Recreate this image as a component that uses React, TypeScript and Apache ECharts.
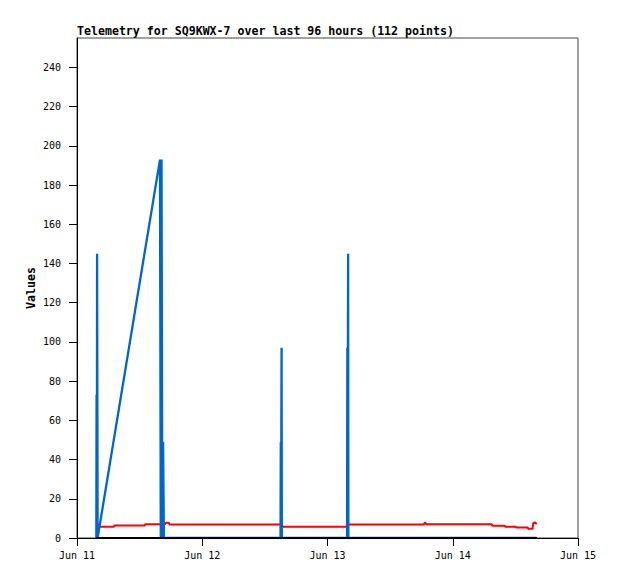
import React, { useEffect, useRef } from "react";
import * as echarts from "echarts";

// Time base: Jun 11 00:00 (UTC), series times given in hours after it
const BASE = Date.UTC(2024, 5, 11);
const HOUR = 3600000;
const DAY = 24 * HOUR;

const dayTickOffsets = [0, 1, 2, 3, 4];
const yTickValues = [0, 20, 40, 60, 80, 100, 120, 140, 160, 180, 200, 220, 240];
const MONTHS = ["Jan", "Feb", "Mar", "Apr", "May", "Jun", "Jul", "Aug", "Sep", "Oct", "Nov", "Dec"];

const blueHours = [3.7, 3.75, 3.8, 3.85, 3.95, 15.9, 16.05, 16.2, 16.35, 16.5, 16.65, 39.0, 39.05, 39.1, 39.2, 39.25, 51.75, 51.8, 51.85, 51.95, 52.0, 88.1];
const blueValues = [0, 73, 0, 145, 0, 193, 0, 193, 0, 49, 0, 0, 49, 0, 97, 0, 0, 97, 0, 145, 0, 0];

const redHours = [4.0, 7.1, 7.15, 13.0, 13.05, 16.9, 17.0, 17.6, 17.7, 39.3, 39.35, 51.9, 51.95, 66.5, 66.6, 66.8, 66.9, 79.5, 79.55, 82.0, 82.05, 84.1, 84.15, 86.4, 86.45, 87.3, 87.4, 87.7, 88.1];
const redValues = [5.8, 5.8, 6.4, 6.4, 7.0, 7.0, 7.8, 7.8, 6.9, 6.9, 5.8, 5.8, 6.9, 6.9, 7.8, 7.8, 7.0, 7.0, 6.3, 6.3, 5.8, 5.8, 5.3, 5.3, 4.7, 4.7, 7.5, 8.0, 7.2];

const blackHours = [3.6, 88.1];
const blackValues = [0, 0];

const FONT = "'DejaVu Sans Mono', 'Liberation Mono', monospace";

const toData = (hours: number[], values: number[]) =>
  hours.map((h, i) => [BASE + h * HOUR, values[i]]);

export default function App() {
  const ref = useRef<HTMLDivElement>(null);
  useEffect(() => {
    if (!ref.current) return;
    const chart = echarts.init(ref.current, null, { renderer: "svg" });
    const dayTicks = dayTickOffsets.map((d) => BASE + d * DAY);
    chart.setOption({
      animation: false,
      backgroundColor: "#ffffff",
      title: {
        text: "Telemetry for SQ9KWX-7 over last 96 hours (112 points)",
        left: 77,
        top: 25,
        padding: 0,
        textStyle: { fontFamily: FONT, fontSize: 11.6, fontWeight: "bold", color: "#000" },
      },
      grid: {
        left: 77,
        top: 38,
        right: 40,
        bottom: 41,
        show: true,
        borderColor: "#444",
        borderWidth: 1,
        backgroundColor: "transparent",
      },
      xAxis: {
        type: "value",
        min: BASE,
        max: BASE + 4 * DAY,
        axisLine: { show: true, lineStyle: { color: "#000", width: 1 } },
        axisTick: { show: true, length: 8, customValues: dayTicks, lineStyle: { color: "#000" } },
        axisLabel: {
          customValues: dayTicks,
          margin: 12,
          fontFamily: FONT,
          fontSize: 10,
          color: "#000",
          formatter: (v: number) => {
            const d = new Date(v);
            return MONTHS[d.getUTCMonth()] + " " + d.getUTCDate();
          },
        },
        splitLine: { show: false },
      },
      yAxis: {
        type: "value",
        min: 0,
        max: 255,
        name: "Values",
        nameLocation: "middle",
        nameGap: 40,
        nameMoveOverlap: false,
        nameTextStyle: { fontFamily: FONT, fontSize: 11.6, fontWeight: "bold", color: "#000" },
        axisLine: { show: true, lineStyle: { color: "#000", width: 1 } },
        axisTick: { show: true, length: 8, customValues: yTickValues, lineStyle: { color: "#000" } },
        axisLabel: {
          customValues: yTickValues,
          margin: 16,
          fontFamily: FONT,
          fontSize: 10,
          color: "#000",
        },
        splitLine: { show: false },
      },
      series: [
        {
          type: "line",
          data: toData(redHours, redValues),
          showSymbol: false,
          lineStyle: { color: "#ff0000", width: 2 },
          z: 2,
        },
        {
          type: "line",
          data: toData(blueHours, blueValues),
          showSymbol: false,
          lineStyle: { color: "#0066cc", width: 2.3 },
          z: 3,
        },
        {
          type: "line",
          data: toData(blackHours, blackValues),
          showSymbol: false,
          lineStyle: { color: "#000000", width: 2 },
          z: 4,
        },
      ],
    });
    return () => chart.dispose();
  }, []);
  return (
    <div
      ref={ref}
      style={{ position: "fixed", left: 0, top: 0, width: 618, height: 579, background: "#fff" }}
    />
  );
}
